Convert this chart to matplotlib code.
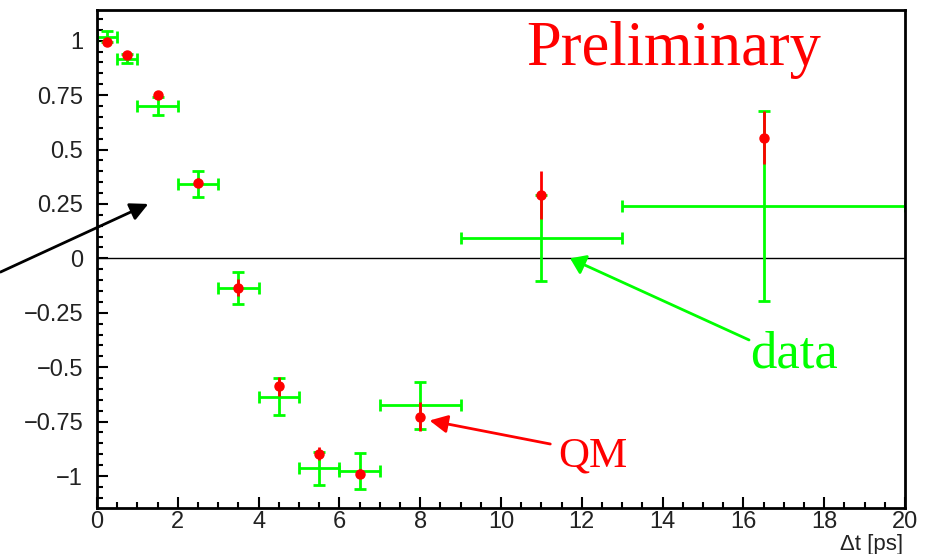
import matplotlib.pyplot as plt
from matplotlib.ticker import MultipleLocator

# data (green): bin centers, half widths, values and errors
data_x = [0.25, 0.75, 1.5, 2.5, 3.5, 4.5, 5.5, 6.5, 8.0, 11.0, 16.5]
data_xerr = [0.25, 0.25, 0.5, 0.5, 0.5, 0.5, 0.5, 0.5, 1.0, 2.0, 3.5]
data_y = [1.018, 0.918, 0.70, 0.342, -0.137, -0.637, -0.965, -0.977, -0.676, 0.093, 0.242]
data_yerr = [0.025, 0.02, 0.04, 0.058, 0.075, 0.085, 0.075, 0.082, 0.11, 0.198, 0.436]

# QM prediction (red)
qm_x = [0.25, 0.75, 1.5, 2.5, 3.5, 4.5, 5.5, 6.5, 8.0, 11.0, 16.5]
qm_y = [0.995, 0.935, 0.75, 0.348, -0.135, -0.588, -0.897, -0.989, -0.727, 0.293, 0.555]
qm_yerr = [0.01, 0.01, 0.015, 0.02, 0.04, 0.045, 0.03, 0.02, 0.065, 0.11, 0.12]

y_ticks = [1, 0.75, 0.5, 0.25, 0, -0.25, -0.5, -0.75, -1]
y_ticklabels = ['1', '0.75', '0.5', '0.25', '0', '\u22120.25', '\u22120.5', '\u22120.75', '\u22121']

GREEN = '#00ff00'
RED = '#ff0000'

fig = plt.figure(figsize=(9.31, 5.54), dpi=100)
ax = fig.add_axes([97 / 931, 46 / 554, 808 / 931, 498 / 554])

ax.axhline(0, color='black', lw=1, zorder=1)

ax.errorbar(data_x, data_y, xerr=data_xerr, yerr=data_yerr, fmt='none',
            ecolor=GREEN, elinewidth=2, capsize=4, capthick=2, zorder=2)
ax.errorbar(qm_x, qm_y, yerr=qm_yerr, fmt='o', color=RED, ms=6.5,
            elinewidth=2, capsize=0, zorder=3)

ax.set_xlim(0, 20)
ax.set_ylim(-1.147, 1.141)

ax.xaxis.set_major_locator(MultipleLocator(2))
ax.xaxis.set_minor_locator(MultipleLocator(0.5))
ax.yaxis.set_minor_locator(MultipleLocator(0.05))
ax.set_yticks(y_ticks)
ax.set_yticklabels(y_ticklabels)

ax.tick_params(which='both', direction='in', top=False, right=False,
               labelsize=17, width=1.5, colors='black', labelcolor='#222222')
ax.tick_params(which='major', length=8)
ax.tick_params(which='minor', length=4)
ax.tick_params(axis='y', pad=10)
ax.tick_params(axis='x', pad=2.5)
for lbl in ax.get_xticklabels() + ax.get_yticklabels():
    lbl.set_family('Liberation Sans')
for sp in ax.spines.values():
    sp.set_linewidth(2)

ax.text(10.63, 0.888, 'Preliminary', color=RED, fontsize=45,
        family='Liberation Serif', ha='left', va='baseline')
ax.text(16.17, -0.50, 'data', color=GREEN, fontsize=38,
        family='Liberation Serif', ha='left', va='baseline')
ax.text(11.41, -0.955, 'QM', color=RED, fontsize=31,
        family='Liberation Serif', ha='left', va='baseline')

ax.annotate('', xy=(1.27, 0.25), xytext=(-2.39, -0.063), annotation_clip=False,
            arrowprops=dict(arrowstyle='-|>,head_length=0.6,head_width=0.3',
                            mutation_scale=18, color='black', lw=2,
                            shrinkA=0, shrinkB=0))
ax.annotate('', xy=(11.71, 0.0), xytext=(16.14, -0.375),
            arrowprops=dict(arrowstyle='-|>,head_length=0.5,head_width=0.35',
                            mutation_scale=18, color=GREEN, lw=2,
                            shrinkA=0, shrinkB=0))
ax.annotate('', xy=(8.23, -0.745), xytext=(11.22, -0.853),
            arrowprops=dict(arrowstyle='-|>,head_length=0.6,head_width=0.3',
                            mutation_scale=18, color=RED, lw=2,
                            shrinkA=0, shrinkB=0))

fig.text(903 / 931, 4 / 554, '\u0394t [ps]', ha='right', va='baseline',
         fontsize=16, family='Liberation Sans', color='#222222')

fig.savefig('out.png', dpi=100)
